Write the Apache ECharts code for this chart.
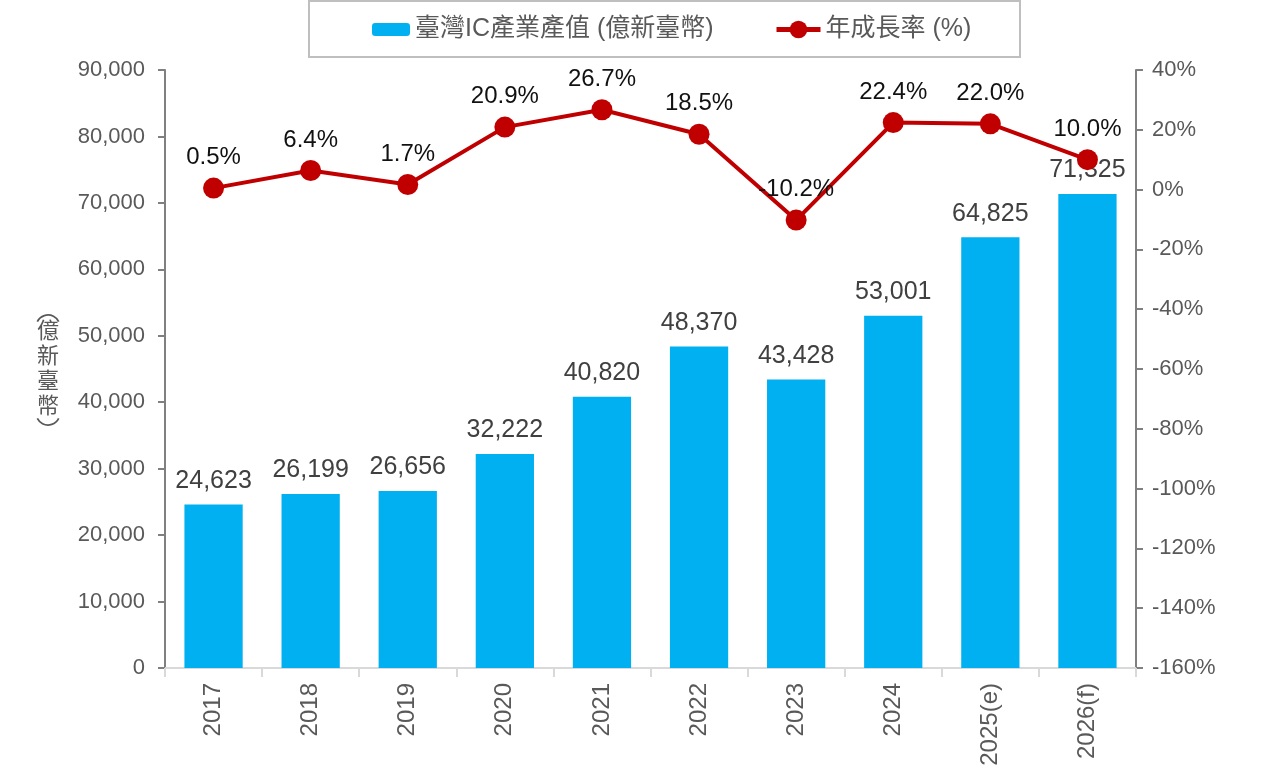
<!DOCTYPE html>
<html>
<head>
    <meta charset="utf-8">
    <title>臺灣IC產業產值</title>
    <script src="https://cdn.jsdelivr.net/npm/echarts@6/dist/echarts.min.js"></script>
    <style>
        html, body { margin: 0; padding: 0; background: #fff; }
        #chart { width: 1264px; height: 781px; }
    </style>
</head>
<body>
<div id="chart"></div>
<script type="text/javascript">
    // 資料
    var years = ['2017', '2018', '2019', '2020', '2021', '2022', '2023', '2024', '2025(e)', '2026(f)'];
    var outputValue = [24623, 26199, 26656, 32222, 40820, 48370, 43428, 53001, 64825, 71325];
    var growthRate = [0.5, 6.4, 1.7, 20.9, 26.7, 18.5, -10.2, 22.4, 22.0, 10.0];

    var font = '"Liberation Sans", Arial, "Noto Sans CJK TC", sans-serif';
    var gray = '#595959';
    var myChart = echarts.init(document.getElementById('chart'));

    myChart.setOption({
        animation: false,
        textStyle: { fontFamily: font },
        grid: { left: 165, right: 128, top: 70, bottom: 113 },
        // 圖例外框與 y 軸名稱的直排括號
        graphic: [
            {
                type: 'rect',
                shape: { x: 309, y: 1, width: 711, height: 56 },
                style: { fill: 'none', stroke: '#bfbfbf', lineWidth: 2 }
            },
            {
                type: 'arc',
                shape: { cx: 48, cy: 327, r: 12, startAngle: Math.PI * 1.15, endAngle: Math.PI * 1.85, clockwise: true },
                style: { fill: 'none', stroke: gray, lineWidth: 1.8 }
            },
            {
                type: 'arc',
                shape: { cx: 48, cy: 413, r: 12, startAngle: Math.PI * 0.15, endAngle: Math.PI * 0.85, clockwise: true },
                style: { fill: 'none', stroke: gray, lineWidth: 1.8 }
            }
        ],
        legend: [
            {
                top: 17,
                left: 372,
                padding: 0,
                itemWidth: 38,
                itemHeight: 13,
                textStyle: { fontSize: 25, color: gray, fontFamily: font },
                data: ['臺灣IC產業產值 (億新臺幣)']
            },
            {
                top: 17,
                left: 774,
                padding: 0,
                itemWidth: 44,
                itemHeight: 22,
                lineStyle: { width: 5 },
                textStyle: { fontSize: 25, color: gray, fontFamily: font },
                data: ['年成長率 (%)']
            }
        ],
        xAxis: {
            type: 'category',
            data: years,
            axisLine: { lineStyle: { color: '#d9d9d9', width: 2 } },
            axisTick: { show: true, length: 9, lineStyle: { color: '#d9d9d9', width: 2 } },
            axisLabel: { rotate: 90, fontSize: 24, color: gray, margin: 15 }
        },
        yAxis: [
            {
                type: 'value',
                min: 0,
                max: 90000,
                interval: 10000,
                name: '億\n新\n臺\n幣',
                nameLocation: 'middle',
                nameGap: 117,
                nameRotate: 0,
                nameTextStyle: { fontSize: 22, color: gray, lineHeight: 25, align: 'center' },
                axisLine: { show: true, lineStyle: { color: '#808080', width: 2 } },
                axisTick: { show: true, length: 7, lineStyle: { color: '#808080', width: 2 } },
                splitLine: { show: false },
                axisLabel: {
                    fontSize: 22,
                    color: gray,
                    margin: 20,
                    formatter: function (v) { return v.toLocaleString('en-US'); }
                }
            },
            {
                type: 'value',
                min: -160,
                max: 40,
                interval: 20,
                position: 'right',
                axisLine: { show: true, lineStyle: { color: '#808080', width: 2 } },
                axisTick: { show: true, length: 7, lineStyle: { color: '#808080', width: 2 } },
                splitLine: { show: false },
                axisLabel: { fontSize: 22, color: gray, margin: 16, formatter: '{value}%' }
            }
        ],
        series: [
            {
                name: '臺灣IC產業產值 (億新臺幣)',
                type: 'bar',
                yAxisIndex: 0,
                barWidth: '60%',
                data: outputValue,
                itemStyle: { color: '#00b0f0' },
                label: {
                    show: true,
                    position: 'top',
                    distance: 11,
                    fontSize: 25,
                    color: '#404040',
                    formatter: function (p) { return p.value.toLocaleString('en-US'); }
                }
            },
            {
                name: '年成長率 (%)',
                type: 'line',
                yAxisIndex: 1,
                data: growthRate,
                symbol: 'circle',
                symbolSize: 21,
                z: 5,
                lineStyle: { color: '#c00000', width: 4 },
                itemStyle: { color: '#c00000' },
                label: {
                    show: true,
                    position: 'top',
                    distance: 8,
                    fontSize: 24,
                    color: '#111111',
                    formatter: function (p) { return p.value.toFixed(1) + '%'; }
                }
            }
        ]
    });
</script>
</body>
</html>
